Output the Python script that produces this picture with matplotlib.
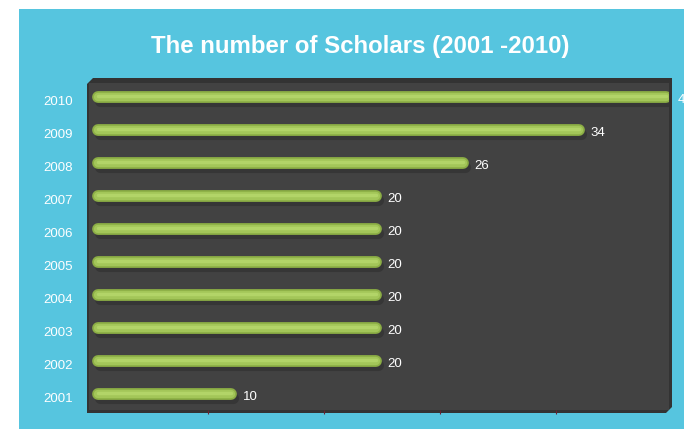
import numpy as np
import matplotlib.pyplot as plt
from matplotlib.patches import Rectangle, Polygon

# data
years = ['2001', '2002', '2003', '2004', '2005', '2006', '2007', '2008', '2009', '2010']
scholars = [10, 20, 20, 20, 20, 20, 20, 26, 34, 40]

W, H = 684, 429
fig = plt.figure(figsize=(W / 100, H / 100), dpi=100, facecolor='white')
plt.rcParams['font.family'] = ['Liberation Sans', 'DejaVu Sans']


def px(x0, y0, x1, y1):
    # pixel box (from top-left) -> figure fraction rect
    return [x0 / W, 1 - y1 / H, (x1 - x0) / W, (y1 - y0) / H]


# cyan panel
fig.patches.append(Rectangle((19 / W, 0), 1, 1 - 9 / H, transform=fig.transFigure,
                             facecolor='#56c5df', edgecolor='none', zorder=-2))

# slab behind the plot area (fake 3d depth)
pts = [(87, 84), (93, 78), (672, 78), (672, 407), (666, 413), (87, 413)]
fig.patches.append(Polygon([(x / W, 1 - y / H) for x, y in pts], closed=True,
                           transform=fig.transFigure, facecolor='#333333',
                           edgecolor='none', zorder=-1))

ax = fig.add_axes(px(89, 83, 669, 410))
ax.set_facecolor('#424242')
for s in ax.spines.values():
    s.set_visible(False)

y = np.arange(len(years))
x = np.array(scholars, dtype=float)
r = 0.4  # cap radius in data units
ax.hlines(y - 0.12, r + 0.15, x - r + 0.15, color='#363636', lw=8, capstyle='round', zorder=2)
ax.hlines(y, r, x - r, color='#8cae45', lw=8.5, capstyle='round', zorder=3)
ax.hlines(y + 0.01, r, x - r, color='#a3c659', lw=6, capstyle='round', zorder=4)
ax.hlines(y + 0.02, r, x - r, color='#b2d468', lw=2.5, capstyle='round', zorder=5)

for yi, v in zip(y, scholars):
    ax.text(v + 0.4, yi - 0.1, str(v), color='white', fontsize=9.5,
            va='center', ha='left', clip_on=False, zorder=6)

ax.set_xlim(-0.2, 39.8)
ax.set_ylim(-0.485, 9.424)
ax.set_yticks(y - 0.1)
ax.set_yticklabels(years, color='white', fontsize=9.5)
ax.tick_params(axis='y', length=0, pad=11.5)
ax.set_xticks([8, 16, 24, 32])
ax.tick_params(axis='x', length=3, color='#6a2030', labelbottom=False)

fig.text(360 / W, 1 - 46 / H, 'The number of Scholars (2001 -2010)', color='white',
         fontsize=17.3, fontweight='bold', ha='center', va='center')

fig.savefig('out.png', dpi=100, facecolor='white')
